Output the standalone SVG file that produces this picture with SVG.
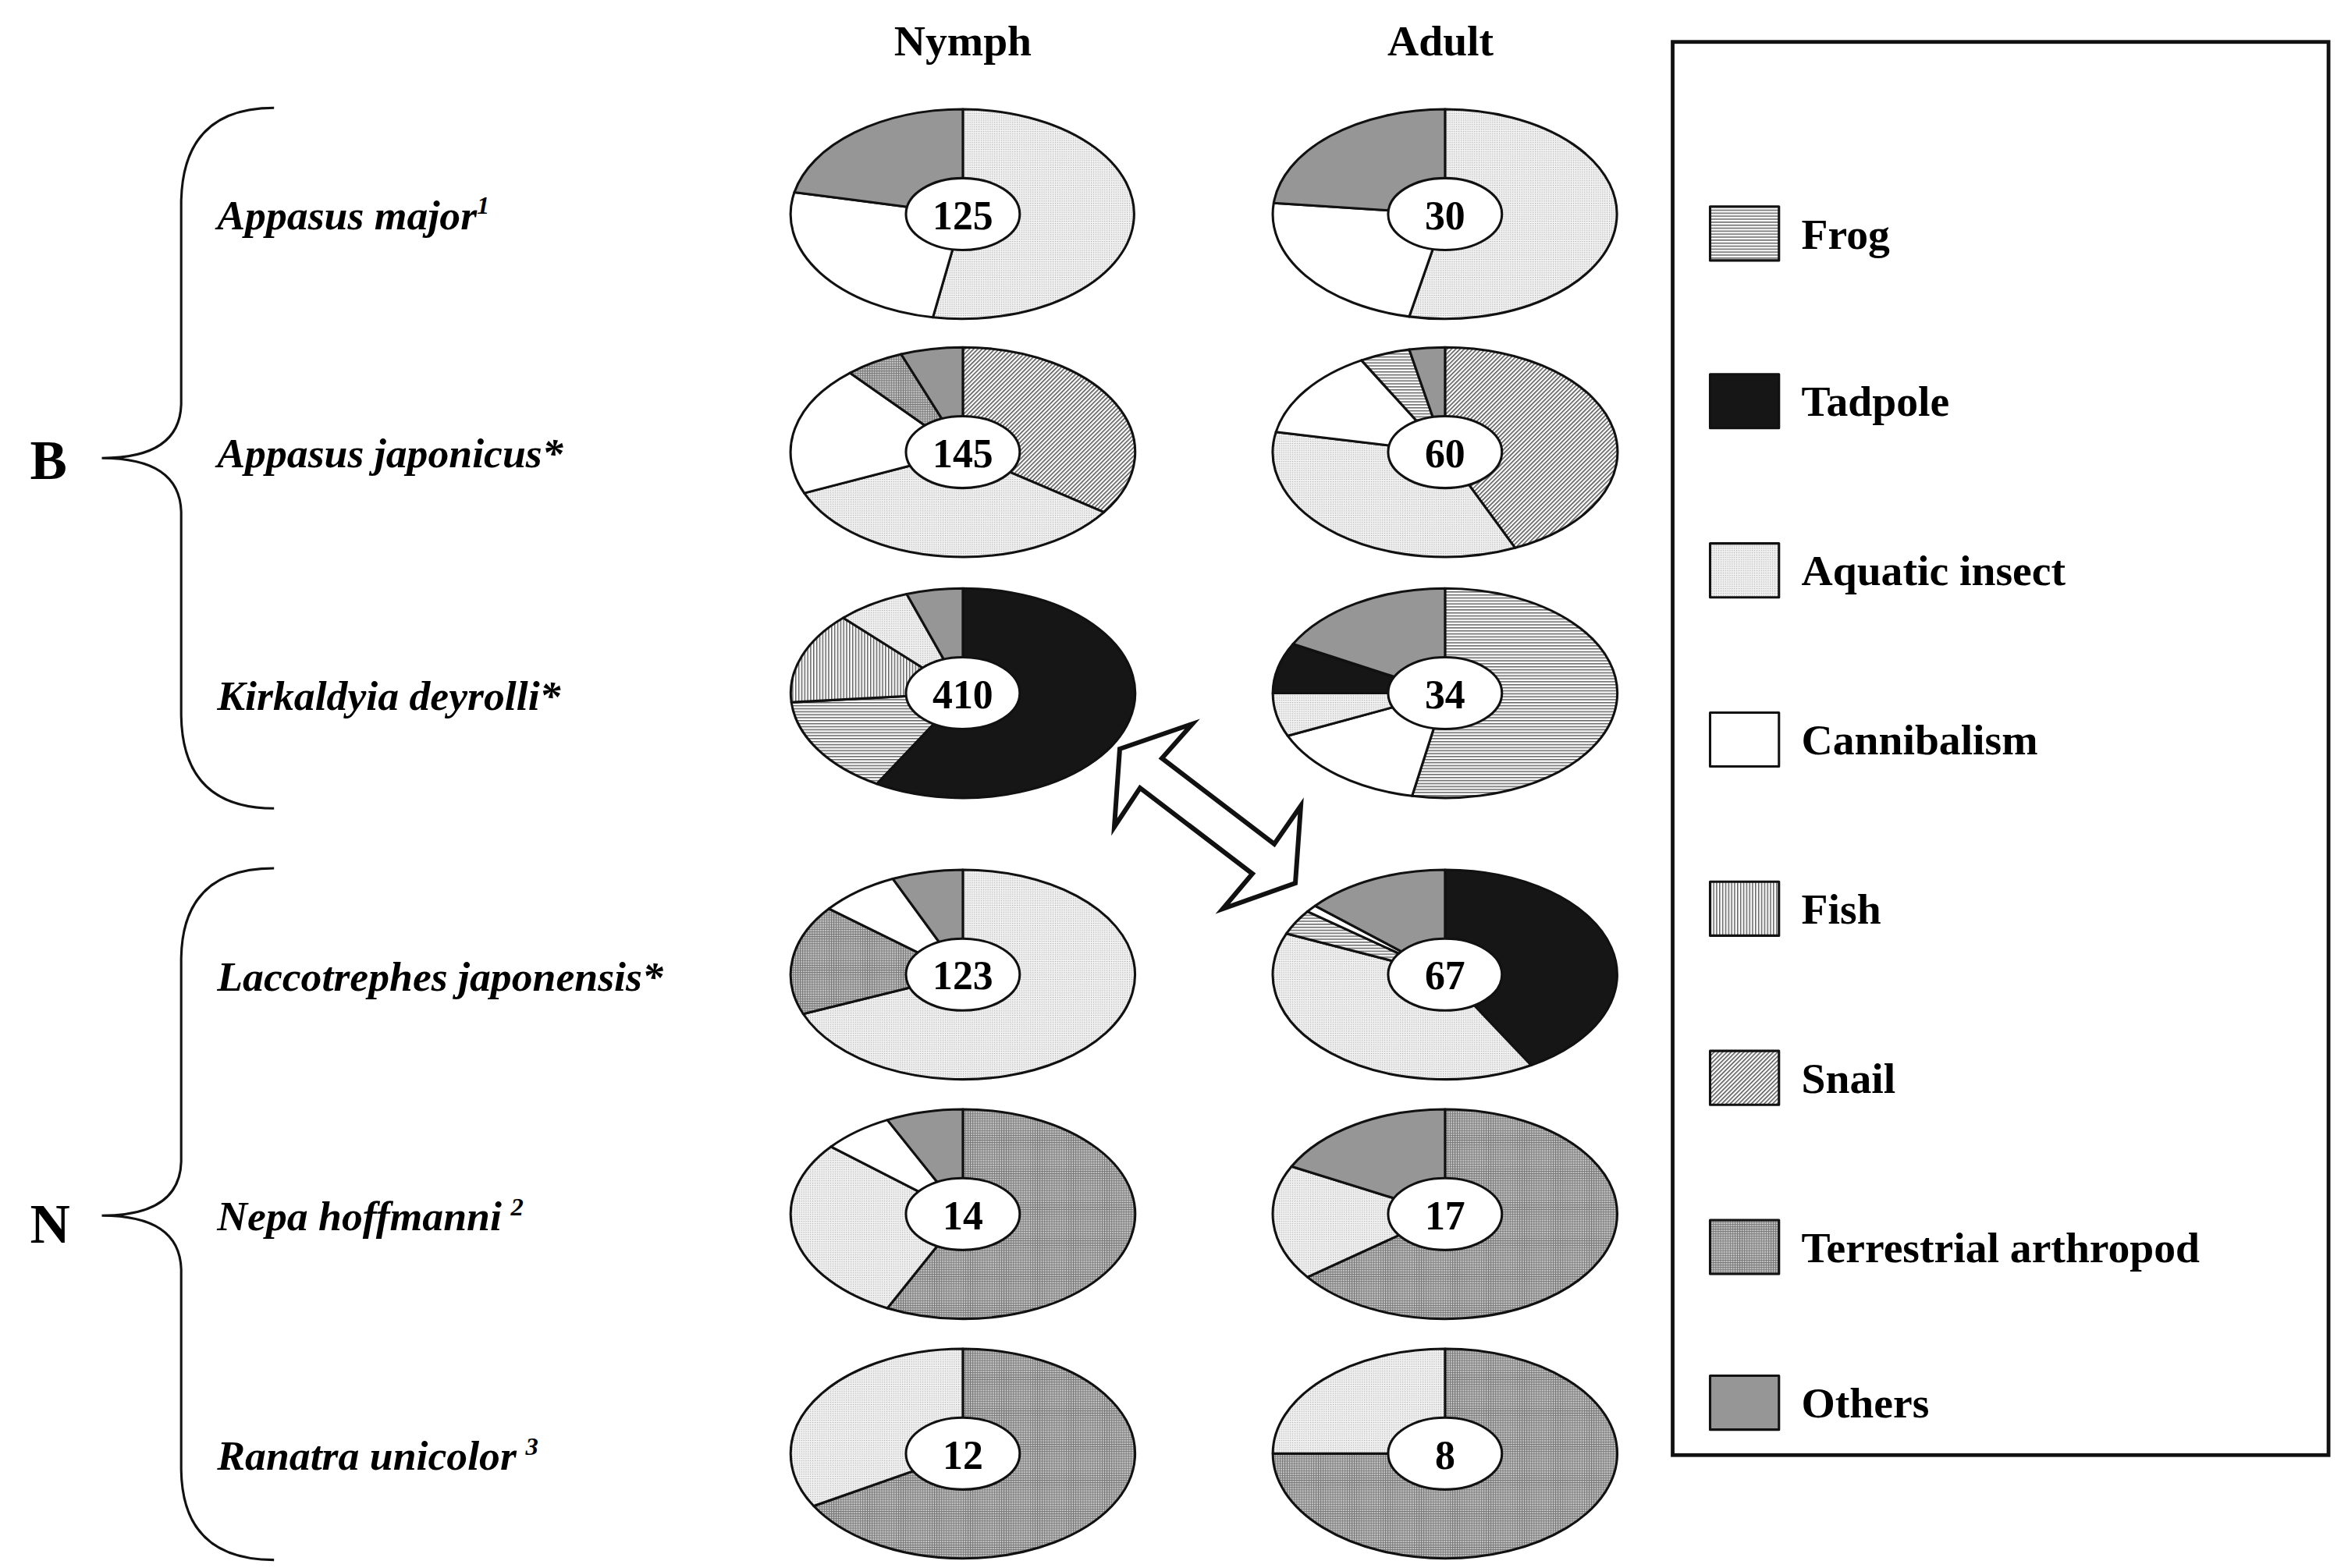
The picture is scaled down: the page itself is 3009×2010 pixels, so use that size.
<svg xmlns="http://www.w3.org/2000/svg" width="3009" height="2010" viewBox="0 0 3009 2010">
<defs>
<pattern id="pAq" width="1.5" height="1.5" patternUnits="userSpaceOnUse"><rect width="1.5" height="1.5" fill="#f2f2f2"/><rect width="0.6" height="0.6" fill="#aaa"/></pattern>
<pattern id="pFrog" width="2" height="2" patternUnits="userSpaceOnUse"><rect width="2" height="2" fill="#fff"/><rect width="2" height="0.8" fill="#666"/></pattern>
<pattern id="pFish" width="2" height="2" patternUnits="userSpaceOnUse"><rect width="2" height="2" fill="#fff"/><rect width="0.8" height="2" fill="#666"/></pattern>
<pattern id="pSnail" width="2" height="2" patternUnits="userSpaceOnUse" patternTransform="rotate(45)"><rect width="2" height="2" fill="#fff"/><rect width="0.8" height="2" fill="#555"/></pattern>
<pattern id="pTerr" width="1.6" height="1.6" patternUnits="userSpaceOnUse"><rect width="1.6" height="1.6" fill="#c8c8c8"/><rect width="1.6" height="0.5" fill="#777"/><rect width="0.5" height="1.6" fill="#777"/></pattern>
<style>
.s{stroke:#111;stroke-width:1.6;stroke-linejoin:round}
.aq{fill:url(#pAq)}.fr{fill:url(#pFrog)}.fi{fill:url(#pFish)}.sn{fill:url(#pSnail)}.te{fill:url(#pTerr)}
.ot{fill:#969696}.ta{fill:#161616}.ca{fill:#fff}
.in{fill:#fff;stroke:#111;stroke-width:1.6}
.n{font-family:"Liberation Serif",serif;font-weight:bold;font-size:27px;text-anchor:middle}
.h{font-family:"Liberation Serif",serif;font-weight:bold;font-size:29px;text-anchor:middle}
.sp{font-family:"Liberation Serif",serif;font-weight:bold;font-style:italic;font-size:28px}
.lg{font-family:"Liberation Serif",serif;font-weight:bold;font-size:29px}
.br{fill:none;stroke:#111;stroke-width:1.6}
</style>
</defs>
<g transform="scale(1.919)">
<text class="h" x="643" y="37">Nymph</text>
<text class="h" x="962" y="37">Adult</text>
<g id="braces">
<path class="br" d="M183,72 Q122,72 121,135 L121,270 Q120,306 68,306 Q120,306 121,342 L121,478 Q122,540 183,540"/>
<path class="br" d="M183,580 Q122,580 121,640 L121,776 Q120,812 68,812 Q120,812 121,848 L121,982 Q122,1042 183,1042"/>
<text class="lg" x="20" y="320" style="font-size:37px">B</text>
<text class="lg" x="20" y="830" style="font-size:37px">N</text>
</g>
<g id="labels">
<text class="sp" x="145" y="153">Appasus major<tspan dy="-10" style="font-size:17px">1</tspan></text>
<text class="sp" x="145" y="312">Appasus japonicus*</text>
<text class="sp" x="145" y="474">Kirkaldyia deyrolli*</text>
<text class="sp" x="145" y="662">Laccotrephes japonensis*</text>
<text class="sp" x="145" y="822">Nepa hoffmanni<tspan dx="6" dy="-10" style="font-size:17px">2</tspan></text>
<text class="sp" x="145" y="982">Ranatra unicolor<tspan dx="6" dy="-10" style="font-size:17px">3</tspan></text>
</g>
<g id="pie-n1" transform="translate(643,143)">
<path class="s aq" d="M0,0 L0,-70 A115,70 0 1 1 -20,69 Z"/>
<path class="s ca" d="M0,0 L-20,69 A115,70 0 0 1 -112.5,-14.6 Z"/>
<path class="s ot" d="M0,0 L-112.5,-14.6 A115,70 0 0 1 0,-70 Z"/>
<ellipse class="in" rx="38" ry="24"/><text class="n" y="10">125</text>
</g>
<g id="pie-a1" transform="translate(965,143)">
<path class="s aq" d="M0,0 L0,-70 A115,70 0 1 1 -23.9,68.5 Z"/>
<path class="s ca" d="M0,0 L-23.9,68.5 A115,70 0 0 1 -114.4,-7.4 Z"/>
<path class="s ot" d="M0,0 L-114.4,-7.4 A115,70 0 0 1 0,-70 Z"/>
<ellipse class="in" rx="38" ry="24"/><text class="n" y="10">30</text>
</g>
<g id="pie-n2" transform="translate(643,302)">
<path class="s sn" d="M0,0 L0,-70 A115,70 0 0 1 94.2,40.2 Z"/>
<path class="s aq" d="M0,0 L94.2,40.2 A115,70 0 0 1 -105.9,27.4 Z"/>
<path class="s ca" d="M0,0 L-105.9,27.4 A115,70 0 0 1 -75.4,-52.9 Z"/>
<path class="s te" d="M0,0 L-75.4,-52.9 A115,70 0 0 1 -41.2,-65.4 Z"/>
<path class="s ot" d="M0,0 L-41.2,-65.4 A115,70 0 0 1 0,-70 Z"/>
<ellipse class="in" rx="38" ry="24"/><text class="n" y="10">145</text>
</g>
<g id="pie-a2" transform="translate(965,302)">
<path class="s sn" d="M0,0 L0,-70 A115,70 0 0 1 46.8,64 Z"/>
<path class="s aq" d="M0,0 L46.8,64 A115,70 0 0 1 -112.9,-13.4 Z"/>
<path class="s ca" d="M0,0 L-112.9,-13.4 A115,70 0 0 1 -55.8,-61.3 Z"/>
<path class="s fr" d="M0,0 L-55.8,-61.3 A115,70 0 0 1 -23.9,-68.5 Z"/>
<path class="s ot" d="M0,0 L-23.9,-68.5 A115,70 0 0 1 0,-70 Z"/>
<ellipse class="in" rx="38" ry="24"/><text class="n" y="10">60</text>
</g>
<g id="pie-n3" transform="translate(643,463)">
<path class="s ta" d="M0,0 L0,-70 A115,70 0 1 1 -57.5,60.6 Z"/>
<path class="s fr" d="M0,0 L-57.5,60.6 A115,70 0 0 1 -114.5,6.1 Z"/>
<path class="s fi" d="M0,0 L-114.5,6.1 A115,70 0 0 1 -79.9,-50.3 Z"/>
<path class="s aq" d="M0,0 L-79.9,-50.3 A115,70 0 0 1 -37.5,-66.2 Z"/>
<path class="s ot" d="M0,0 L-37.5,-66.2 A115,70 0 0 1 0,-70 Z"/>
<ellipse class="in" rx="38" ry="24"/><text class="n" y="10">410</text>
</g>
<g id="pie-a3" transform="translate(965,463)">
<path class="s fr" d="M0,0 L0,-70 A115,70 0 1 1 -22,68.7 Z"/>
<path class="s ca" d="M0,0 L-22,68.7 A115,70 0 0 1 -105.1,28.5 Z"/>
<path class="s aq" d="M0,0 L-105.1,28.5 A115,70 0 0 1 -115,0 Z"/>
<path class="s ta" d="M0,0 L-115,0 A115,70 0 0 1 -101.5,-32.8 Z"/>
<path class="s ot" d="M0,0 L-101.5,-32.8 A115,70 0 0 1 0,-70 Z"/>
<ellipse class="in" rx="38" ry="24"/><text class="n" y="10">34</text>
</g>
<g id="pie-n4" transform="translate(643,651)">
<path class="s aq" d="M0,0 L0,-70 A115,70 0 1 1 -106.6,26.3 Z"/>
<path class="s te" d="M0,0 L-106.6,26.3 A115,70 0 0 1 -89.4,-44 Z"/>
<path class="s ca" d="M0,0 L-89.4,-44 A115,70 0 0 1 -46.8,-64 Z"/>
<path class="s ot" d="M0,0 L-46.8,-64 A115,70 0 0 1 0,-70 Z"/>
<ellipse class="in" rx="38" ry="24"/><text class="n" y="10">123</text>
</g>
<g id="pie-a4" transform="translate(965,651)">
<path class="s ta" d="M0,0 L0,-70 A115,70 0 0 1 57.5,60.6 Z"/>
<path class="s aq" d="M0,0 L57.5,60.6 A115,70 0 0 1 -105.9,-27.4 Z"/>
<path class="s fr" d="M0,0 L-105.9,-27.4 A115,70 0 0 1 -91.9,-42.1 Z"/>
<path class="s ca" d="M0,0 L-91.9,-42.1 A115,70 0 0 1 -86.8,-45.9 Z"/>
<path class="s ot" d="M0,0 L-86.8,-45.9 A115,70 0 0 1 0,-70 Z"/>
<ellipse class="in" rx="38" ry="24"/><text class="n" y="10">67</text>
</g>
<g id="pie-n5" transform="translate(643,811)">
<path class="s te" d="M0,0 L0,-70 A115,70 0 1 1 -50.4,62.9 Z"/>
<path class="s aq" d="M0,0 L-50.4,62.9 A115,70 0 0 1 -88.1,-45 Z"/>
<path class="s ca" d="M0,0 L-88.1,-45 A115,70 0 0 1 -50.4,-62.9 Z"/>
<path class="s ot" d="M0,0 L-50.4,-62.9 A115,70 0 0 1 0,-70 Z"/>
<ellipse class="in" rx="38" ry="24"/><text class="n" y="10">14</text>
</g>
<g id="pie-a5" transform="translate(965,811)">
<path class="s te" d="M0,0 L0,-70 A115,70 0 1 1 -91.9,42.1 Z"/>
<path class="s aq" d="M0,0 L-91.9,42.1 A115,70 0 0 1 -102.5,-31.8 Z"/>
<path class="s ot" d="M0,0 L-102.5,-31.8 A115,70 0 0 1 0,-70 Z"/>
<ellipse class="in" rx="38" ry="24"/><text class="n" y="10">17</text>
</g>
<g id="pie-n6" transform="translate(643,971)">
<path class="s te" d="M0,0 L0,-70 A115,70 0 1 1 -99.6,35 Z"/>
<path class="s aq" d="M0,0 L-99.6,35 A115,70 0 0 1 0,-70 Z"/>
<ellipse class="in" rx="38" ry="24"/><text class="n" y="10">12</text>
</g>
<g id="pie-a6" transform="translate(965,971)">
<path class="s te" d="M0,0 L0,-70 A115,70 0 1 1 -115,0 Z"/>
<path class="s aq" d="M0,0 L-115,0 A115,70 0 0 1 0,-70 Z"/>
<ellipse class="in" rx="38" ry="24"/><text class="n" y="10">8</text>
</g>
<g id="legend">
<rect x="1117" y="28" width="438" height="944" fill="#fff" stroke="#111" stroke-width="2.5"/>
<rect class="s fr" x="1142" y="138" width="46" height="36"/><text class="lg" x="1203" y="166">Frog</text>
<rect class="s ta" x="1142" y="250" width="46" height="36"/><text class="lg" x="1203" y="278">Tadpole</text>
<rect class="s aq" x="1142" y="363" width="46" height="36"/><text class="lg" x="1203" y="391">Aquatic insect</text>
<rect class="s ca" x="1142" y="476" width="46" height="36"/><text class="lg" x="1203" y="504">Cannibalism</text>
<rect class="s fi" x="1142" y="589" width="46" height="36"/><text class="lg" x="1203" y="617">Fish</text>
<rect class="s sn" x="1142" y="702" width="46" height="36"/><text class="lg" x="1203" y="730">Snail</text>
<rect class="s te" x="1142" y="815" width="46" height="36"/><text class="lg" x="1203" y="843">Terrestrial arthropod</text>
<rect class="s ot" x="1142" y="919" width="46" height="36"/><text class="lg" x="1203" y="947">Others</text>
</g>
</g>
<g id="connectors">
<path d="M1435,960 L1528,928 L1489,972 L1633,1082 L1667,1033 L1660,1132 L1567,1165 L1605,1120 L1461,1010 L1428,1060 Z" fill="#fff" stroke="#111" stroke-width="6" stroke-linejoin="miter"/>
</g>
</svg>
